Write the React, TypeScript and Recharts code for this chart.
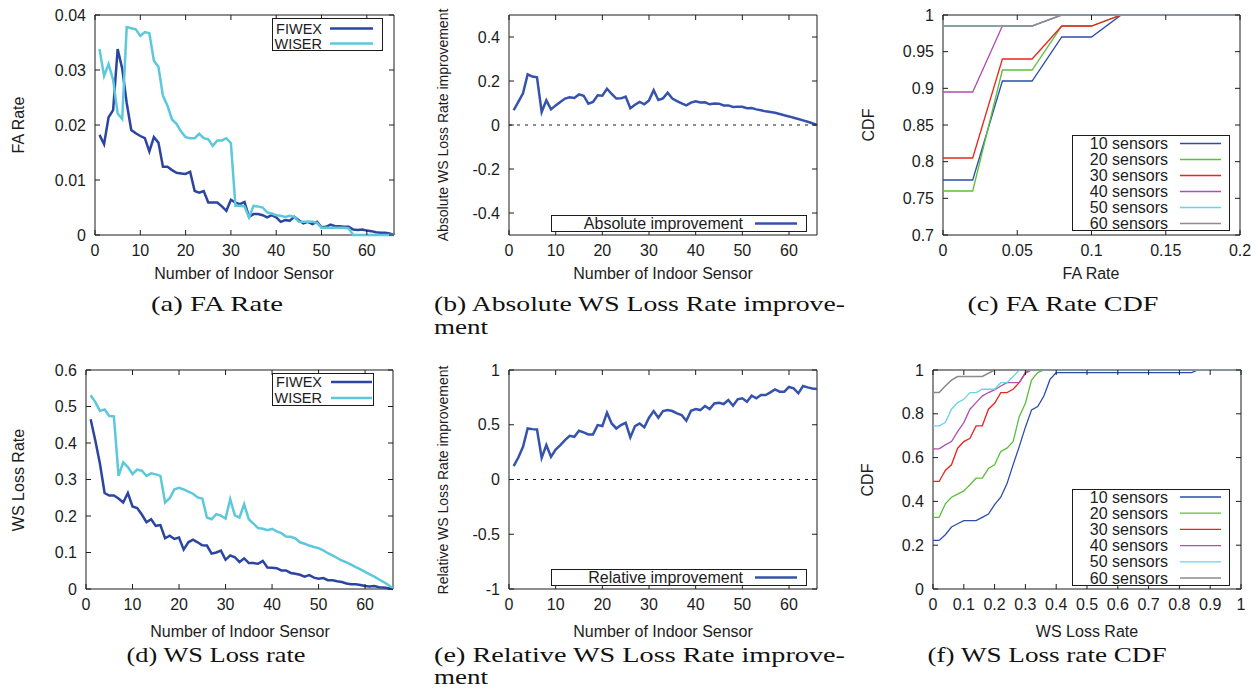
import React from 'react'
import { LineChart, Line, XAxis, YAxis, ReferenceArea, ReferenceLine, Legend } from 'recharts'

// number of indoor sensors (x of panels a, b, d, e)
const sensorCount = [
  1, 2, 3, 4, 5, 6, 7, 8, 9, 10, 11, 12, 13, 14, 15, 16, 17, 18, 19, 20, 21, 22,
  23, 24, 25, 26, 27, 28, 29, 30, 31, 32, 33, 34, 35, 36, 37, 38, 39, 40, 41, 42, 43, 44,
  45, 46, 47, 48, 49, 50, 51, 52, 53, 54, 55, 56, 57, 58, 59, 60, 61, 62, 63, 64, 65, 66,
]

// (a) FA rate
const faFiwex = [
  0.0182, 0.0165, 0.0214, 0.0227, 0.0338, 0.0303, 0.024, 0.0191, 0.0185, 0.018,
  0.0176, 0.0152, 0.0178, 0.0168, 0.0124, 0.0124, 0.0118, 0.0113, 0.0112, 0.0111,
  0.0115, 0.008, 0.0077, 0.008, 0.0059, 0.0059, 0.0059, 0.0052, 0.0044, 0.0064,
  0.0059, 0.0056, 0.006, 0.0033, 0.0038, 0.0038, 0.0036, 0.0032, 0.0036, 0.0032,
  0.0024, 0.0027, 0.0026, 0.0033, 0.0027, 0.0021, 0.0024, 0.002, 0.0024, 0.0014,
  0.0015, 0.0019, 0.0016, 0.0016, 0.0015, 0.0015, 0.001, 0.0009, 0.001, 0.0008,
  0.0007, 0.0005, 0.0004, 0.0004, 0.0003, 0,
]
const faWiser = [
  0.0338, 0.0289, 0.0311, 0.0282, 0.0221, 0.0211, 0.0378, 0.0376, 0.0374, 0.0362,
  0.0369, 0.0367, 0.0317, 0.0306, 0.0253, 0.0235, 0.021, 0.0202, 0.0188, 0.0178,
  0.0176, 0.0176, 0.0184, 0.0176, 0.0174, 0.0162, 0.0172, 0.0172, 0.0176, 0.0167,
  0.0053, 0.0053, 0.0052, 0.0032, 0.0053, 0.0052, 0.005, 0.0041, 0.0039, 0.0036,
  0.0035, 0.0033, 0.0035, 0.0033, 0.0024, 0.0024, 0.0024, 0.0024, 0.0022, 0.0013,
  0.0013, 0.0013, 0.0013, 0.0013, 0.0013, 0.0012, 0, 0, 0, 0,
  0, 0, 0, 0, 0, 0,
]

// (b) absolute WS loss rate improvement
const absImprovement = [
  0.067, 0.105, 0.144, 0.23, 0.22, 0.217, 0.059, 0.112, 0.071, 0.089,
  0.105, 0.12, 0.126, 0.123, 0.139, 0.133, 0.097, 0.105, 0.135, 0.133,
  0.165, 0.141, 0.12, 0.121, 0.129, 0.076, 0.092, 0.105, 0.094, 0.112,
  0.158, 0.114, 0.121, 0.147, 0.12, 0.109, 0.098, 0.089, 0.102, 0.108,
  0.102, 0.103, 0.094, 0.098, 0.097, 0.089, 0.089, 0.082, 0.083, 0.083,
  0.076, 0.077, 0.071, 0.067, 0.062, 0.059, 0.056, 0.05, 0.044, 0.039,
  0.033, 0.027, 0.021, 0.015, 0.008, 0,
]

// (d) WS loss rate
const lossFiwex = [
  0.465, 0.407, 0.343, 0.263, 0.256, 0.256, 0.248, 0.237, 0.263, 0.226,
  0.222, 0.204, 0.183, 0.191, 0.173, 0.175, 0.139, 0.146, 0.137, 0.141,
  0.108, 0.128, 0.135, 0.128, 0.12, 0.119, 0.097, 0.1, 0.105, 0.08,
  0.092, 0.087, 0.074, 0.084, 0.071, 0.071, 0.069, 0.077, 0.059, 0.058,
  0.057, 0.051, 0.051, 0.044, 0.042, 0.039, 0.034, 0.038, 0.031, 0.028,
  0.03, 0.024, 0.024, 0.021, 0.019, 0.015, 0.013, 0.013, 0.011, 0.008,
  0.007, 0.008, 0.005, 0.004, 0.002, 0,
]
const lossWiser = [
  0.531, 0.512, 0.488, 0.492, 0.474, 0.473, 0.31, 0.347, 0.334, 0.315,
  0.327, 0.324, 0.31, 0.317, 0.314, 0.31, 0.237, 0.249, 0.273, 0.277,
  0.273, 0.267, 0.261, 0.251, 0.248, 0.196, 0.191, 0.205, 0.201, 0.193,
  0.246, 0.202, 0.196, 0.232, 0.191, 0.179, 0.167, 0.165, 0.161, 0.165,
  0.158, 0.153, 0.144, 0.143, 0.139, 0.128, 0.124, 0.119, 0.115, 0.112,
  0.106, 0.098, 0.092, 0.085, 0.078, 0.073, 0.067, 0.06, 0.054, 0.047,
  0.04, 0.034, 0.026, 0.019, 0.011, 0.002,
]

// (e) relative WS loss rate improvement
const relImprovement = [
  0.122, 0.201, 0.299, 0.466, 0.46, 0.457, 0.198, 0.314, 0.207, 0.274,
  0.314, 0.36, 0.399, 0.39, 0.445, 0.43, 0.412, 0.412, 0.497, 0.488,
  0.61, 0.512, 0.466, 0.497, 0.518, 0.384, 0.488, 0.512, 0.476, 0.564,
  0.625, 0.564, 0.625, 0.634, 0.625, 0.604, 0.588, 0.537, 0.628, 0.643,
  0.634, 0.671, 0.643, 0.695, 0.701, 0.689, 0.726, 0.674, 0.732, 0.741,
  0.71, 0.765, 0.741, 0.771, 0.771, 0.796, 0.823, 0.802, 0.802, 0.845,
  0.832, 0.787, 0.854, 0.841, 0.832, 0.826,
]

// (c) FA rate CDF
const faCdfX = [0, 0.02, 0.04, 0.06, 0.08, 0.1, 0.12, 0.2]
const faCdf10 = [0.775, 0.775, 0.91, 0.91, 0.97, 0.97, 1, 1]
const faCdf20 = [0.76, 0.76, 0.925, 0.925, 0.985, 0.985, 1, 1]
const faCdf30 = [0.805, 0.805, 0.94, 0.94, 0.985, 0.985, 1, 1]
const faCdf40 = [0.895, 0.895, 0.985, 0.985, 1, 1, 1, 1]
const faCdf50 = [0.985, 0.985, 0.985, 0.985, 1, 1, 1, 1]
const faCdf60 = [0.985, 0.985, 0.985, 0.985, 1, 1, 1, 1]

// (f) WS loss rate CDF
const lossCdfX = [
  0, 0.02, 0.04, 0.06, 0.08, 0.1, 0.12, 0.14, 0.16, 0.18, 0.2, 0.22,
  0.24, 0.26, 0.28, 0.3, 0.32, 0.34, 0.36, 0.38, 0.4, 0.84, 0.86, 1,
]
const lossCdf10 = [
  0.222, 0.222, 0.248, 0.283, 0.298, 0.312, 0.312, 0.312, 0.327, 0.342, 0.385, 0.419,
  0.48, 0.567, 0.65, 0.739, 0.818, 0.833, 0.881, 0.957, 0.988, 0.988, 1, 1,
]
const lossCdf20 = [
  0.327, 0.327, 0.389, 0.419, 0.433, 0.448, 0.476, 0.506, 0.506, 0.55, 0.567, 0.628,
  0.643, 0.673, 0.787, 0.848, 0.954, 0.988, 1, 1, 1, 1, 1, 1,
]
const lossCdf30 = [
  0.491, 0.491, 0.541, 0.567, 0.643, 0.673, 0.688, 0.745, 0.745, 0.821, 0.848, 0.897,
  0.897, 0.912, 0.942, 0.988, 1, 1, 1, 1, 1, 1, 1, 1,
]
const lossCdf40 = [
  0.64, 0.64, 0.658, 0.673, 0.719, 0.76, 0.821, 0.851, 0.881, 0.897, 0.909, 0.927,
  0.942, 0.942, 0.942, 0.985, 1, 1, 1, 1, 1, 1, 1, 1,
]
const lossCdf50 = [
  0.745, 0.745, 0.76, 0.821, 0.851, 0.866, 0.897, 0.897, 0.912, 0.912, 0.912, 0.942,
  0.942, 0.97, 1, 1, 1, 1, 1, 1, 1, 1, 1, 1,
]
const lossCdf60 = [
  0.897, 0.897, 0.927, 0.954, 0.97, 0.97, 0.97, 0.97, 0.97, 0.985, 1, 1,
  1, 1, 1, 1, 1, 1, 1, 1, 1, 1, 1, 1,
]

const sensorTicks = [0, 10, 20, 30, 40, 50, 60]
const faTicks = [0, 0.01, 0.02, 0.03, 0.04]
const absTicks = [-0.4, -0.2, 0, 0.2, 0.4]
const faCdfXTicks = [0, 0.05, 0.1, 0.15, 0.2]
const faCdfYTicks = [0.7, 0.75, 0.8, 0.85, 0.9, 0.95, 1]
const lossTicks = [0, 0.1, 0.2, 0.3, 0.4, 0.5, 0.6]
const relTicks = [-1, -0.5, 0, 0.5, 1]
const lossCdfXTicks = [0, 0.1, 0.2, 0.3, 0.4, 0.5, 0.6, 0.7, 0.8, 0.9, 1]
const lossCdfYTicks = [0, 0.2, 0.4, 0.6, 0.8, 1]

const INK = '#1c1c1c'
const SANS = "'Liberation Sans', Arial, sans-serif"
const SERIF = "'Liberation Serif', 'DejaVu Serif', serif"
const DARK = '#2b45a1'
const LIGHT = '#5dc8dc'
const MID = '#3553ad'
const cdfColors = ['#2a4ea8', '#5cbf3c', '#e8261e', '#b04fb0', '#66d4ea', '#8c8c8c']

const faRows = sensorCount.map((n, i) => ({ x: n, fiwex: faFiwex[i], wiser: faWiser[i] }))
const absRows = sensorCount.map((n, i) => ({ x: n, v: absImprovement[i] }))
const lossRows = sensorCount.map((n, i) => ({ x: n, fiwex: lossFiwex[i], wiser: lossWiser[i] }))
const relRows = sensorCount.map((n, i) => ({ x: n, v: relImprovement[i] }))
const faCdfRows = faCdfX.map((x, i) => ({
  x, s10: faCdf10[i], s20: faCdf20[i], s30: faCdf30[i], s40: faCdf40[i], s50: faCdf50[i], s60: faCdf60[i],
}))
const lossCdfRows = lossCdfX.map((x, i) => ({
  x, s10: lossCdf10[i], s20: lossCdf20[i], s30: lossCdf30[i], s40: lossCdf40[i], s50: lossCdf50[i], s60: lossCdf60[i],
}))

const cdfLines = ['s10', 's20', 's30', 's40', 's50', 's60'].map((key, i) => ({
  key, name: `${(i + 1) * 10} sensors`, color: cdfColors[i], width: i === 5 ? 1.6 : 1.3,
}))

type LineSpec = { key: string; name: string; color: string; width: number }
type LegendSpec = {
  x: number; y: number; w: number; h: number; textRight: number; lineX1: number; lineX2: number
  row0: number; rowH: number; lw: number; fs: number
}

const makeXTick = (plotH: number) => (props: any) => {
  const { x, y, payload } = props
  return (
    <g>
      <line x1={x} x2={x} y1={y} y2={y - 5} stroke={INK} />
      <line x1={x} x2={x} y1={y - plotH} y2={y - plotH + 5} stroke={INK} />
      <text x={x} y={y + 21} textAnchor="middle" fontSize={16} fill={INK} fontFamily={SANS}>
        {payload.value}
      </text>
    </g>
  )
}

const makeYTick = (plotW: number) => (props: any) => {
  const { x, y, payload } = props
  return (
    <g>
      <line x1={x} x2={x + 5} y1={y} y2={y} stroke={INK} />
      <line x1={x + plotW} x2={x + plotW - 5} y1={y} y2={y} stroke={INK} />
      <text x={x - 9} y={y + 5.5} textAnchor="end" fontSize={16} fill={INK} fontFamily={SANS}>
        {payload.value}
      </text>
    </g>
  )
}

const makeLegend = (s: LegendSpec) => (props: any) => (
  <svg width={s.w} height={s.h} style={{ display: 'block', overflow: 'visible' }}>
    <rect x={0.5} y={0.5} width={s.w - 1} height={s.h - 1} fill="#fff" stroke={INK} />
    {(props.payload || []).map((p: any, i: number) => {
      const cy = s.row0 + i * s.rowH
      return (
        <g key={p.value}>
          <text x={s.textRight} y={cy + s.fs * 0.35} textAnchor="end" fontSize={s.fs} fill={INK} fontFamily={SANS}>
            {p.value}
          </text>
          <line x1={s.lineX1} x2={s.lineX2} y1={cy} y2={cy} stroke={p.color} strokeWidth={s.lw} />
        </g>
      )
    })}
  </svg>
)

type PanelProps = {
  box: [number, number, number, number]
  data: any[]
  xDomain: [number, number]
  yDomain: [number, number]
  xTicks: number[]
  yTicks: number[]
  lines: LineSpec[]
  legend: LegendSpec
  zeroLine?: boolean
}

function Panel({ box, data, xDomain, yDomain, xTicks, yTicks, lines, legend, zeroLine }: PanelProps) {
  const [L, T, R, B] = box
  const padL = 90
  const padT = 10
  const padR = 20
  const padB = 40
  const plotW = R - L
  const plotH = B - T
  const left = L - padL
  const top = T - padT
  return (
    <div style={{ position: 'absolute', left, top }}>
      <LineChart
        width={plotW + padL + padR}
        height={plotH + padT + padB}
        data={data}
        margin={{ top: padT, right: padR, bottom: 0, left: 0 }}
      >
        <XAxis
          dataKey="x"
          type="number"
          domain={xDomain}
          ticks={xTicks}
          interval={0}
          height={padB}
          axisLine={false}
          tickLine={false}
          tickSize={0}
          tickMargin={0}
          tick={makeXTick(plotH)}
        />
        <YAxis
          type="number"
          domain={yDomain}
          ticks={yTicks}
          interval={0}
          width={padL}
          axisLine={false}
          tickLine={false}
          tickSize={0}
          tickMargin={0}
          tick={makeYTick(plotW)}
        />
        <ReferenceArea x1={xDomain[0]} x2={xDomain[1]} y1={yDomain[0]} y2={yDomain[1]} fill="none" stroke={INK} strokeWidth={1} />
        {zeroLine && <ReferenceLine y={0} stroke={INK} strokeWidth={1} strokeDasharray="3 5" />}
        {lines.map((l) => (
          <Line
            key={l.key}
            dataKey={l.key}
            name={l.name}
            type="linear"
            stroke={l.color}
            strokeWidth={l.width}
            dot={false}
            isAnimationActive={false}
          />
        ))}
        <Legend
          layout="vertical"
          align="center"
          verticalAlign="middle"
          content={makeLegend(legend)}
          wrapperStyle={{ left: legend.x - left, top: legend.y - top, width: legend.w, height: legend.h }}
        />
      </LineChart>
    </div>
  )
}

const axisTitles = [
  { text: 'FA Rate', x: 18, y: 125, rot: true, size: 16 },
  { text: 'Absolute WS Loss Rate improvement', x: 443, y: 125, rot: true, size: 14 },
  { text: 'CDF', x: 868, y: 125, rot: true, size: 16 },
  { text: 'WS Loss Rate', x: 18, y: 480, rot: true, size: 16 },
  { text: 'Relative WS Loss Rate improvement', x: 443, y: 480, rot: true, size: 14 },
  { text: 'CDF', x: 867, y: 480, rot: true, size: 16 },
  { text: 'Number of Indoor Sensor', x: 244, y: 273, rot: false, size: 16 },
  { text: 'Number of Indoor Sensor', x: 663, y: 273, rot: false, size: 16 },
  { text: 'FA Rate', x: 1091, y: 273, rot: false, size: 16 },
  { text: 'Number of Indoor Sensor', x: 240, y: 631, rot: false, size: 16 },
  { text: 'Number of Indoor Sensor', x: 663, y: 631, rot: false, size: 16 },
  { text: 'WS Loss Rate', x: 1087, y: 631, rot: false, size: 16 },
]

// subfigure captions: centre or left x, baseline y, width of the set line
const captions = [
  { text: '(a) FA Rate', x: 217, y: 311, anchor: 'middle', len: 132 },
  { text: '(b) Absolute WS Loss Rate improve-', x: 434, y: 311, anchor: 'start', len: 411 },
  { text: 'ment', x: 434, y: 334, anchor: 'start', len: 54 },
  { text: '(c) FA Rate CDF', x: 1063, y: 311, anchor: 'middle', len: 191 },
  { text: '(d) WS Loss rate', x: 216, y: 662, anchor: 'middle', len: 179 },
  { text: '(e) Relative WS Loss Rate improve-', x: 434, y: 662, anchor: 'start', len: 411 },
  { text: 'ment', x: 434, y: 684, anchor: 'start', len: 54 },
  { text: '(f) WS Loss rate CDF', x: 1047, y: 662, anchor: 'middle', len: 239 },
]

export default function App() {
  return (
    <div style={{ position: 'absolute', left: 0, top: 0, width: 1258, height: 689, background: '#fff', overflow: 'hidden' }}>
      <Panel
        box={[95, 15, 394, 235]}
        data={faRows}
        xDomain={[0, 66]}
        yDomain={[0, 0.04]}
        xTicks={sensorTicks}
        yTicks={faTicks}
        lines={[
          { key: 'fiwex', name: 'FIWEX', color: DARK, width: 2.5 },
          { key: 'wiser', name: 'WISER', color: LIGHT, width: 2.5 },
        ]}
        legend={{ x: 272, y: 18, w: 111, h: 33, textRight: 50, lineX1: 58, lineX2: 101, row0: 10.5, rowH: 15, lw: 2.5, fs: 14.5 }}
      />
      <Panel
        box={[509, 15, 817, 235]}
        data={absRows}
        xDomain={[0, 66]}
        yDomain={[-0.5, 0.5]}
        xTicks={sensorTicks}
        yTicks={absTicks}
        zeroLine
        lines={[{ key: 'v', name: 'Absolute improvement', color: MID, width: 2.5 }]}
        legend={{ x: 551, y: 215, w: 256, h: 17, textRight: 192, lineX1: 204, lineX2: 246, row0: 8.5, rowH: 16, lw: 2.5, fs: 16 }}
      />
      <Panel
        box={[943, 15, 1240, 235]}
        data={faCdfRows}
        xDomain={[0, 0.2]}
        yDomain={[0.7, 1]}
        xTicks={faCdfXTicks}
        yTicks={faCdfYTicks}
        lines={cdfLines}
        legend={{ x: 1072, y: 135, w: 158, h: 96, textRight: 96, lineX1: 108, lineX2: 149, row0: 8.5, rowH: 16, lw: 1.3, fs: 16 }}
      />
      <Panel
        box={[86, 370, 393, 589]}
        data={lossRows}
        xDomain={[0, 66]}
        yDomain={[0, 0.6]}
        xTicks={sensorTicks}
        yTicks={lossTicks}
        lines={[
          { key: 'fiwex', name: 'FIWEX', color: DARK, width: 2.5 },
          { key: 'wiser', name: 'WISER', color: LIGHT, width: 2.5 },
        ]}
        legend={{ x: 272, y: 373, w: 102, h: 33, textRight: 50, lineX1: 59, lineX2: 100, row0: 9, rowH: 16, lw: 2.5, fs: 14.5 }}
      />
      <Panel
        box={[509, 370, 817, 589]}
        data={relRows}
        xDomain={[0, 66]}
        yDomain={[-1, 1]}
        xTicks={sensorTicks}
        yTicks={relTicks}
        zeroLine
        lines={[{ key: 'v', name: 'Relative improvement', color: MID, width: 2.5 }]}
        legend={{ x: 551, y: 569, w: 256, h: 17, textRight: 192, lineX1: 204, lineX2: 246, row0: 8.5, rowH: 16, lw: 2.5, fs: 16 }}
      />
      <Panel
        box={[933, 370, 1241, 589]}
        data={lossCdfRows}
        xDomain={[0, 1]}
        yDomain={[0, 1]}
        xTicks={lossCdfXTicks}
        yTicks={lossCdfYTicks}
        lines={cdfLines}
        legend={{ x: 1072, y: 489, w: 158, h: 97, textRight: 96, lineX1: 108, lineX2: 149, row0: 8, rowH: 16.2, lw: 1.3, fs: 16 }}
      />
      <svg width={1258} height={689} style={{ position: 'absolute', left: 0, top: 0, pointerEvents: 'none' }}>
        {axisTitles.map((t, i) => (
          <text
            key={i}
            x={t.x}
            y={t.y}
            fontSize={t.size}
            fontFamily={SANS}
            fill={INK}
            textAnchor="middle"
            dominantBaseline="central"
            transform={t.rot ? `rotate(-90 ${t.x} ${t.y})` : undefined}
          >
            {t.text}
          </text>
        ))}
        {captions.map((c, i) => (
          <text
            key={i}
            x={c.x}
            y={c.y}
            fontSize={21}
            fontFamily={SERIF}
            fill="#111"
            textAnchor={c.anchor as any}
            textLength={c.len}
            lengthAdjust="spacingAndGlyphs"
          >
            {c.text}
          </text>
        ))}
      </svg>
    </div>
  )
}
